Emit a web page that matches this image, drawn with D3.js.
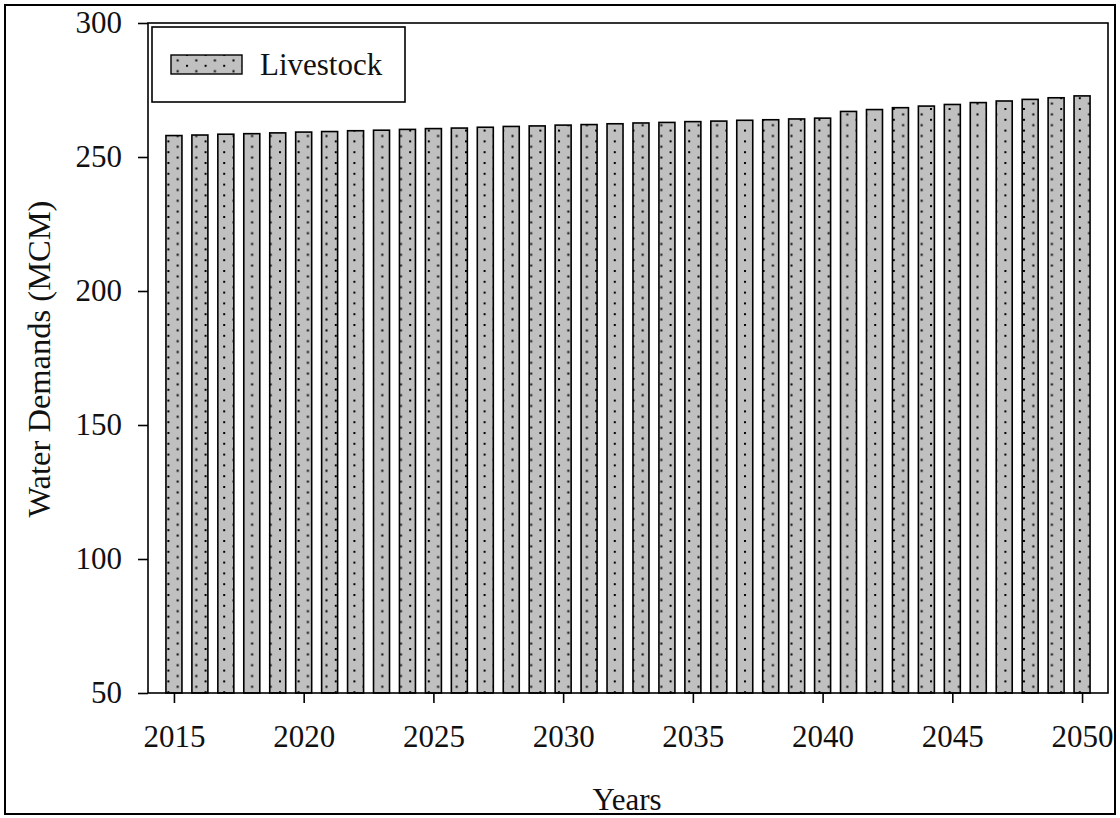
<!DOCTYPE html>
<html>
<head>
<meta charset="utf-8">
<script src="https://cdn.jsdelivr.net/npm/d3@7"></script>
<style>
  html, body { margin: 0; padding: 0; background: #fff; }
  svg { display: block; }
  text { font-family: "Liberation Serif", "Times New Roman", serif; fill: #111; }
</style>
</head>
<body>
<svg id="chart" width="1120" height="818"></svg>
<script>
// Livestock water demand projection, million cubic metres per year
const years = d3.range(2015, 2051);
const livestock = [
  258.0, 258.2, 258.5, 258.7, 259.0, 259.3, 259.5, 259.8, 260.0, 260.3,
  260.6, 260.8, 261.1, 261.4, 261.6, 261.9, 262.1, 262.4, 262.7, 262.9,
  263.2, 263.4, 263.7, 263.9, 264.2, 264.5, 267.0, 267.7, 268.4, 269.0,
  269.6, 270.3, 270.9, 271.5, 272.1, 272.8
];
const xTicks = [2015, 2020, 2025, 2030, 2035, 2040, 2045, 2050];
const yTicks = [50, 100, 150, 200, 250, 300];
const seriesName = "Livestock";
const xTitle = "Years";
const yTitle = "Water Demands (MCM)";

const svg = d3.select("#chart");
const plot = { left: 148, top: 23, right: 1108, bottom: 693 };

// Outer frame
svg.append("rect")
  .attr("x", 5).attr("y", 5).attr("width", 1110).attr("height", 809)
  .attr("fill", "none").attr("stroke", "#000").attr("stroke-width", 2);

// Dotted grey fill
const defs = svg.append("defs");
const pat = defs.append("pattern")
  .attr("id", "dots").attr("patternUnits", "userSpaceOnUse")
  .attr("width", 18.6).attr("height", 10.8);
pat.append("rect").attr("width", 18.6).attr("height", 10.8).attr("fill", "#c0c0c0");
pat.append("rect").attr("x", 0).attr("y", 0).attr("width", 2).attr("height", 2).attr("fill", "#000");
pat.append("rect").attr("x", 9.3).attr("y", 5.4).attr("width", 2).attr("height", 2).attr("fill", "#000");

const x = d3.scaleLinear().domain([2014, 2051]).range([plot.left, plot.right]);
const y = d3.scaleLinear().domain([50, 300]).range([plot.bottom, plot.top]);
const barW = 16;

// Bars
svg.append("g").selectAll("rect")
  .data(years.map((yr, i) => ({ yr, v: livestock[i] })))
  .join("rect")
  .attr("x", d => x(d.yr) - barW / 2)
  .attr("y", d => y(d.v))
  .attr("width", barW)
  .attr("height", d => y(50) - y(d.v))
  .attr("fill", "url(#dots)")
  .attr("stroke", "#000")
  .attr("stroke-width", 1.6);

// Plot box
svg.append("rect")
  .attr("x", plot.left).attr("y", plot.top)
  .attr("width", plot.right - plot.left).attr("height", plot.bottom - plot.top)
  .attr("fill", "none").attr("stroke", "#000").attr("stroke-width", 1.6);

// Axes
const xAxis = svg.append("g")
  .attr("transform", `translate(0,${plot.bottom})`)
  .call(d3.axisBottom(x).tickValues(xTicks).tickFormat(d3.format("d")).tickSize(10).tickPadding(22));
const yAxis = svg.append("g")
  .attr("transform", `translate(${plot.left},0)`)
  .call(d3.axisLeft(y).tickValues(yTicks).tickSize(10).tickPadding(16));
[xAxis, yAxis].forEach(g => {
  g.select(".domain").remove();
  g.selectAll(".tick line").attr("stroke", "#000").attr("stroke-width", 1.6);
  g.selectAll(".tick text")
    .attr("font-family", "Liberation Serif, Times New Roman, serif")
    .attr("font-size", 31).attr("fill", "#111");
});

// Axis titles
svg.append("text")
  .attr("x", 627).attr("y", 810)
  .attr("text-anchor", "middle").attr("font-size", 31)
  .text(xTitle);
svg.append("text")
  .attr("transform", "translate(50,359) rotate(-90)")
  .attr("text-anchor", "middle").attr("font-size", 32.5)
  .text(yTitle);

// Legend
const lg = svg.append("g");
lg.append("rect")
  .attr("x", 152).attr("y", 27).attr("width", 253).attr("height", 75)
  .attr("fill", "#fff").attr("stroke", "#000").attr("stroke-width", 1.6);
lg.append("rect")
  .attr("x", 171).attr("y", 55).attr("width", 71).attr("height", 19)
  .attr("fill", "url(#dots)").attr("stroke", "#000").attr("stroke-width", 1.4);
lg.append("text")
  .attr("x", 260).attr("y", 75).attr("font-size", 31)
  .text(seriesName);
</script>
</body>
</html>
